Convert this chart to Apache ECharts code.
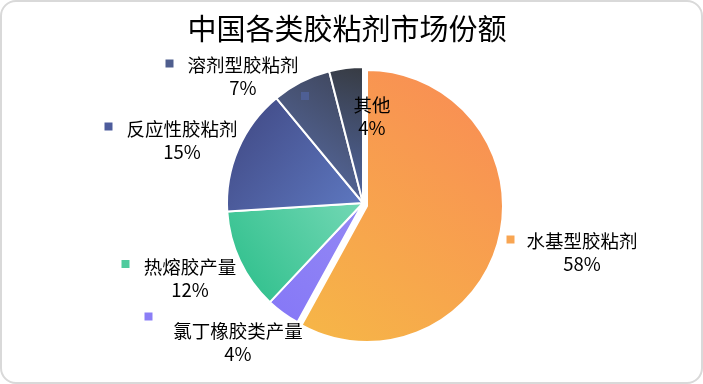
<!DOCTYPE html>
<html><head><meta charset="utf-8">
<script src="https://cdn.jsdelivr.net/npm/echarts@6/dist/echarts.min.js"></script>
<style>html,body{margin:0;padding:0;background:#fff}#c{width:703px;height:384px}</style>
</head><body><div id="c"></div>
<script>
const categories = ['水基型胶粘剂','氯丁橡胶类产量','热熔胶产量','反应性胶粘剂','溶剂型胶粘剂','其他'];
const values = [58, 4, 12, 15, 7, 4];
const titleText = '中国各类胶粘剂市场份额';
const explodedIndex = 0;

// styling / layout (not data)
const gradients = [
  [1,0,0,1,'#F98A55','#F6B747'],
  [1,0,0,1,'#9489F4','#8577F7'],
  [1,0,0,1,'#74D8B5','#28BD88'],
  [0,0,1,1,'#3F4680','#5E79C2'],
  [1,0,0,1,'#3D4356','#5B71AE'],
  [1,0,0,1,'#373B42','#5269A8']
];
const markerColors = ['#F8A552','#8B7EF6','#4FCB9E','#4D5C9C','#4F5E8E','#4E5F94'];
const labelPos = [[582,252.5],[238,342.5],[190,278],[182,140],[243,76.5],[372,116.5]];
const markerPos = [[510.5,239.5],[148.5,316.5],[125.5,264],[108.5,126.5],[169.5,63.5],[305,96]];
const FONT = '"Noto Sans CJK SC", "Noto Sans", sans-serif';
const CENTER = [363,203], CENTER_EXPLODED = [367,206], R = 136;

const chart = echarts.init(document.getElementById('c'));
const grad = i => new echarts.graphic.LinearGradient(gradients[i][0],gradients[i][1],gradients[i][2],gradients[i][3],[{offset:0,color:gradients[i][4]},{offset:1,color:gradients[i][5]}]);
const hidden = {color:'rgba(0,0,0,0)',borderWidth:0};
const visible = i => ({color:grad(i),borderColor:'#fff',borderWidth:2});
const mk = test => categories.map((n,i)=>({name:n, value:values[i], itemStyle: test(i) ? visible(i) : hidden}));
const markerRich = {};
markerColors.forEach((c,i)=>{markerRich['m'+i]={width:8,height:8,backgroundColor:c};});
const base = {type:'pie', radius:[0,R], startAngle:90, clockwise:true, silent:true,
  avoidLabelOverlap:false, emphasis:{disabled:true}, labelLine:{show:false}};

chart.setOption({
  animation:false,
  title:{text:titleText,left:342,top:24,textAlign:'center',textVerticalAlign:'middle',
    textStyle:{fontFamily:FONT,fontSize:29,fontWeight:'normal',color:'#000'}},
  graphic:[{type:'rect',shape:{x:1,y:1,width:701,height:382,r:15},style:{fill:'none',stroke:'#d9d9d9',lineWidth:2},silent:true}],
  series:[
    Object.assign({}, base, {
      center:CENTER, label:{show:false}, data:mk(i=>i!==explodedIndex), z:2
    }),
    Object.assign({}, base, {
      center:CENTER_EXPLODED,
      label:{show:true,position:'outside',fontFamily:FONT,fontSize:18.5,color:'#000',lineHeight:23,align:'center',
        formatter:p=>p.name+'\n'+p.value+'%'},
      labelLayout:p=>({x:labelPos[p.dataIndex][0],y:labelPos[p.dataIndex][1],align:'center',verticalAlign:'middle'}),
      data:mk(i=>i===explodedIndex), z:3
    }),
    Object.assign({}, base, {
      center:CENTER,
      label:{show:true,position:'outside',formatter:p=>'{m'+p.dataIndex+'|}',rich:markerRich},
      labelLayout:p=>({x:markerPos[p.dataIndex][0],y:markerPos[p.dataIndex][1],align:'center',verticalAlign:'middle'}),
      data:mk(()=>false), z:4
    })
  ]
});
</script></body></html>
